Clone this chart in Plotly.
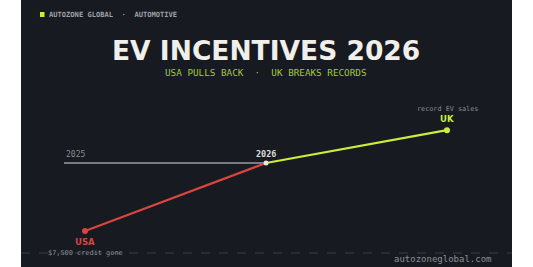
import plotly.graph_objects as go

# ---- data ----
positions = [0, 1, 2]               # USA, 2026 pivot, UK
labels = ["USA", "2026", "UK"]
baseline_2025 = 100
usa_values = [40, 100]              # USA: end point -> 2026 pivot
uk_values = [100, 129]              # UK: 2026 pivot -> end point
baseline_x = [-0.116, 1]
notes = ["$7,500 credit gone", "record EV sales"]

W, H = 533, 267
BG = "#171a21"
RED = "#d8453f"
LIME = "#c9ee3c"
GREEN_SUB = "#a3c93a"
GREY = "#8a8d93"

fig = go.Figure()

# 2025 baseline
fig.add_trace(go.Scatter(x=baseline_x, y=[baseline_2025, baseline_2025], mode="lines",
                         line=dict(color="#9a9ca3", width=1.3), hoverinfo="skip"))
# USA line
fig.add_trace(go.Scatter(x=positions[:2], y=usa_values, mode="lines",
                         line=dict(color=RED, width=2.2), hoverinfo="skip"))
# UK line
fig.add_trace(go.Scatter(x=positions[1:], y=uk_values, mode="lines",
                         line=dict(color=LIME, width=2.2), hoverinfo="skip"))
# markers
fig.add_trace(go.Scatter(x=[positions[0]], y=[usa_values[0]], mode="markers",
                         marker=dict(color=RED, size=6), hoverinfo="skip"))
fig.add_trace(go.Scatter(x=[positions[2]], y=[uk_values[1]], mode="markers",
                         marker=dict(color=LIME, size=6), hoverinfo="skip"))
fig.add_trace(go.Scatter(x=[positions[1]], y=[usa_values[1]], mode="markers",
                         marker=dict(color="#e8e8e0", size=5), hoverinfo="skip"))

mono = "DejaVu Sans Mono"
ann = []
# 2025 label
ann.append(dict(x=baseline_x[0], y=baseline_2025, text="2025", xref="x", yref="y",
                showarrow=False, xanchor="left", yanchor="bottom", yshift=2,
                font=dict(family=mono, size=8, color=GREY)))
# 2026 label
ann.append(dict(x=positions[1], y=usa_values[1], text="<b>2026</b>", xref="x", yref="y",
                showarrow=False, xanchor="center", yanchor="bottom", yshift=2,
                font=dict(family=mono, size=8.5, color="#dcdcd6")))
# USA labels
ann.append(dict(x=positions[0], y=usa_values[0], text="<b>USA</b>", xref="x", yref="y",
                showarrow=False, xanchor="center", yanchor="top", yshift=-4,
                font=dict(family="DejaVu Sans", size=8.5, color=RED)))
ann.append(dict(x=positions[0], y=usa_values[0], text=notes[0], xref="x", yref="y",
                showarrow=False, xanchor="center", yanchor="top", yshift=-16,
                font=dict(family=mono, size=6.9, color=GREY)))
# UK labels
ann.append(dict(x=positions[2], y=uk_values[1], text="<b>UK</b>", xref="x", yref="y",
                showarrow=False, xanchor="center", yanchor="bottom", yshift=4,
                font=dict(family="DejaVu Sans", size=8.5, color=LIME)))
ann.append(dict(x=positions[2], y=uk_values[1], text=notes[1], xref="x", yref="y",
                showarrow=False, xanchor="center", yanchor="bottom", yshift=15,
                font=dict(family=mono, size=6.8, color=GREY)))

# header texts (paper coords)
def py(p):
    return 1 - p / H

def px(p):
    return p / W

ann.append(dict(x=px(47), y=py(14), xref="paper", yref="paper", xanchor="left", yanchor="middle",
                text="<b>AUTOZONE GLOBAL  ·  AUTOMOTIVE</b>", showarrow=False,
                font=dict(family=mono, size=7.1, color="#9ea1a8")))
ann.append(dict(x=px(266), y=py(50), xref="paper", yref="paper", xanchor="center", yanchor="middle",
                text="<b>EV INCENTIVES 2026</b>", showarrow=False,
                font=dict(family="DejaVu Sans", size=26.5, color="#f0efe9")))
ann.append(dict(x=px(266), y=py(72.5), xref="paper", yref="paper", xanchor="center", yanchor="middle",
                text="USA PULLS BACK  ·  UK BREAKS RECORDS", showarrow=False,
                font=dict(family=mono, size=9.3, color=GREEN_SUB)))
ann.append(dict(x=px(494), y=py(259), xref="paper", yref="paper", xanchor="right", yanchor="middle",
                text="autozoneglobal.com", showarrow=False,
                font=dict(family=mono, size=9, color="#8d9096")))

shapes = [
    dict(type="rect", xref="paper", yref="paper", x0=px(21), x1=px(512), y0=0, y1=1,
         fillcolor=BG, line=dict(width=0), layer="below"),
    dict(type="rect", xref="paper", yref="paper", x0=px(40), x1=px(44.5), y0=py(17), y1=py(12),
         fillcolor=LIME, line=dict(width=0)),
    dict(type="line", xref="paper", yref="paper", x0=px(21), x1=px(512), y0=py(253), y1=py(253),
         line=dict(color="#3a3d44", width=1, dash="dash")),
]

# axis ranges mapping data to page pixels
x0_px, dx_px = 85, 181
y0_px, dy_px = 163, 68 / 60
xr = [(0 - x0_px) / dx_px, (W - x0_px) / dx_px]
yr = [baseline_2025 - (H - y0_px) / dy_px, baseline_2025 + y0_px / dy_px]

fig.update_layout(
    width=W, height=H, margin=dict(l=0, r=0, t=0, b=0),
    paper_bgcolor="white", plot_bgcolor="rgba(0,0,0,0)",
    showlegend=False, annotations=ann, shapes=shapes,
    xaxis=dict(range=xr, visible=False, fixedrange=True),
    yaxis=dict(range=yr, visible=False, fixedrange=True),
)
fig.write_html("out.html", config={"displayModeBar": False})
